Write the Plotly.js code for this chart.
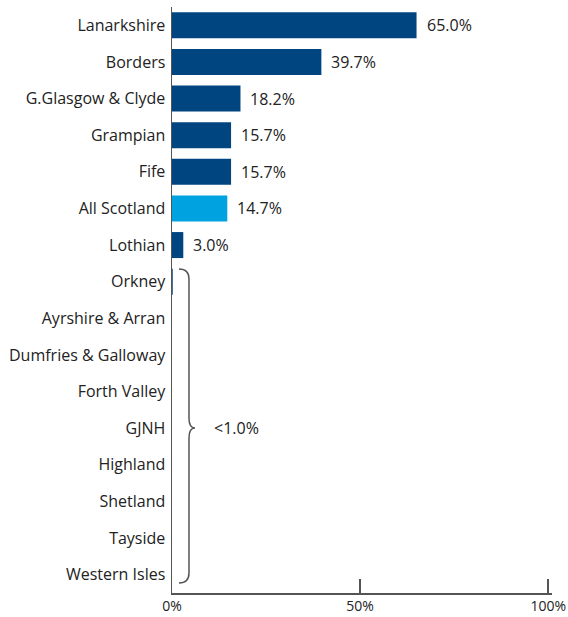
<!DOCTYPE html>
<html>
<head>
<meta charset="utf-8">
<script src="https://cdn.plot.ly/plotly-3.0.1.min.js"></script>
<style>html,body{margin:0;padding:0;background:#fff;}#chart{width:568px;height:617px;}</style>
</head>
<body>
<div id="chart"></div>
<script>
const categories = ["Lanarkshire","Borders","G.Glasgow & Clyde","Grampian","Fife","All Scotland","Lothian","Orkney","Ayrshire & Arran","Dumfries & Galloway","Forth Valley","GJNH","Highland","Shetland","Tayside","Western Isles"];
const values = [65.0, 39.7, 18.2, 15.7, 15.7, 14.7, 3.0, 0.2, 0, 0, 0, 0, 0, 0, 0, 0];
const valueLabels = ["65.0%","39.7%","18.2%","15.7%","15.7%","14.7%","3.0%","","","","","","","","",""];
const groupLabel = "<1.0%";
const xTickVals = [0, 50, 100];
const xTickText = ["0%", "50%", "100%"];

const DARK = "#00457f", LIGHT = "#00a3e0", AXIS = "#555555";
const FONT = "Open Sans, sans-serif";
const colors = categories.map(c => c === "All Scotland" ? LIGHT : DARK);

const M = {l:172, r:16, t:7, b:24};
const W = 568, H = 617;
const pw = W - M.l - M.r, ph = H - M.t - M.b;
const px = x => (x - M.l) / pw;
const py = y => (H - M.b - y) / ph;

const trace = {
  type: "bar", orientation: "h",
  y: categories, x: values,
  marker: {color: colors, line: {width: 0}},
  hoverinfo: "none"
};

const annotations = categories.map((c, i) => valueLabels[i] ? {
  x: values[i], y: c, xref: "x", yref: "y",
  text: valueLabels[i], showarrow: false, xanchor: "left", yanchor: "middle", xshift: 8,
  font: {family: FONT, size: 16, color: "#222"}
} : null).filter(a => a);
annotations.push({
  x: px(212), y: py(428), xref: "paper", yref: "paper",
  text: groupLabel, showarrow: false, xanchor: "left", yanchor: "middle",
  font: {family: FONT, size: 16, color: "#222"}
});

const P = (x, y) => px(x).toFixed(4) + "," + py(y).toFixed(4);
const brace = "M" + P(179,269) + " Q" + P(189,269) + " " + P(189,279) +
  " L" + P(189,418) + " Q" + P(189,428) + " " + P(195,428) +
  " Q" + P(189,428) + " " + P(189,438) +
  " L" + P(189,573) + " Q" + P(189,583) + " " + P(179,583);

const layout = {
  width: W, height: H,
  margin: M,
  paper_bgcolor: "#fff", plot_bgcolor: "#fff",
  showlegend: false,
  bargap: 0.29,
  xaxis: {
    range: [0, 101], tickvals: xTickVals, ticktext: xTickText,
    ticks: "inside", ticklen: 14, tickwidth: 1.5, tickcolor: AXIS,
    showline: true, linecolor: AXIS, linewidth: 1.5,
    showgrid: false, zeroline: false,
    tickfont: {family: FONT, size: 14, color: "#222"}
  },
  yaxis: {
    autorange: "reversed", type: "category",
    showline: true, linecolor: AXIS, linewidth: 1.5,
    showgrid: false, zeroline: false, ticks: "",
    ticklabelstandoff: 2,
    tickfont: {family: FONT, size: 16, color: "#222"}
  },
  shapes: [{type: "path", xref: "paper", yref: "paper", path: brace,
            line: {color: AXIS, width: 1.5}}],
  annotations: annotations
};

Plotly.newPlot("chart", [trace], layout, {staticPlot: true, displayModeBar: false});
</script>
</body>
</html>
